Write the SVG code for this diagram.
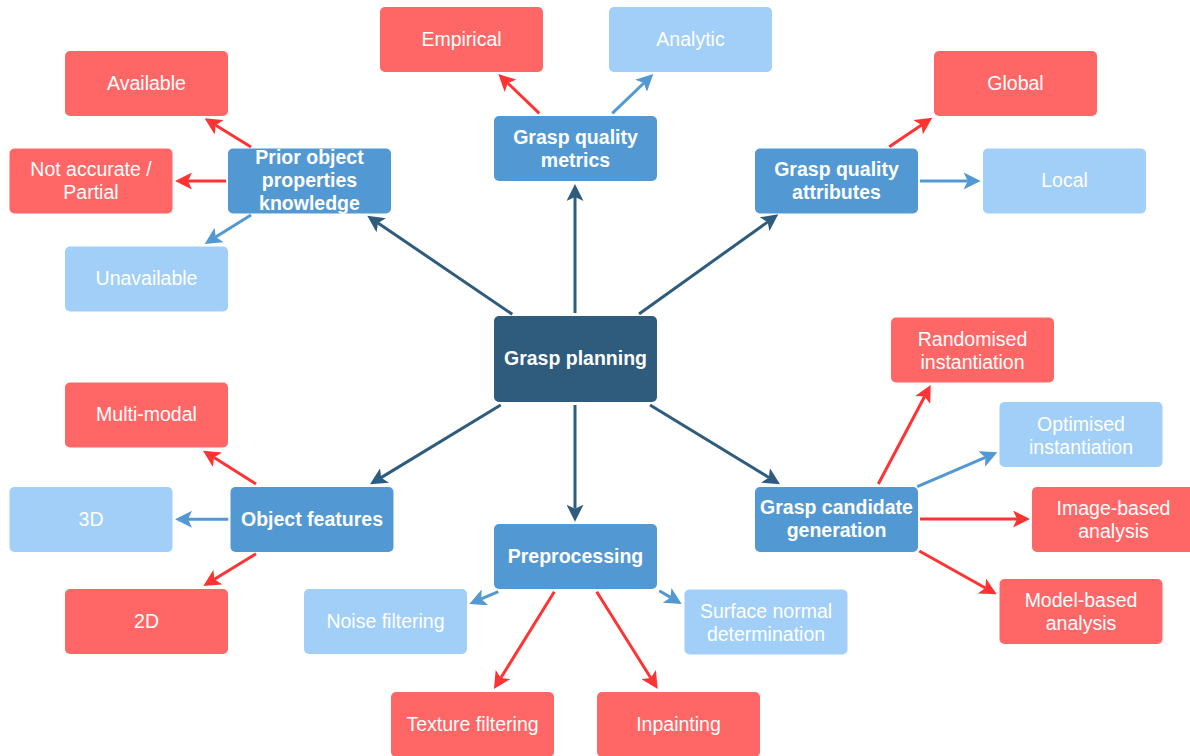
<svg xmlns="http://www.w3.org/2000/svg" width="1190" height="756" viewBox="0 0 1190 756">
  <style>
    .box { stroke: none; }
    .root { fill: #2F5B7C; }
    .cat { fill: #5299D3; }
    .red { fill: #FF6666; }
    .lite { fill: #A1CFF8; }
    text { font-family: "Liberation Sans", Arial, sans-serif; font-size: 19.5px; fill: #FFFFFF; text-anchor: middle; }
    .b { font-weight: bold; }
    .c-dark { stroke: #2F5B7C; stroke-width: 3; fill: none; marker-end: url(#ah-dark); }
    .c-red { stroke: #FF3333; stroke-width: 3; fill: none; marker-end: url(#ah-red); }
    .c-blue { stroke: #5299D3; stroke-width: 3; fill: none; marker-end: url(#ah-blue); }
  </style>
  <defs>
    <!-- classic notched arrowhead: tip at x=17, notch at x=4 (line ends at the notch) -->
    <marker id="ah-dark" markerUnits="userSpaceOnUse" markerWidth="17" markerHeight="17" refX="4" refY="8.5" orient="auto">
      <path d="M17,8.5 L0,0 L4,8.5 L0,17 Z" fill="#2F5B7C"/>
    </marker>
    <marker id="ah-red" markerUnits="userSpaceOnUse" markerWidth="17" markerHeight="17" refX="4" refY="8.5" orient="auto">
      <path d="M17,8.5 L0,0 L4,8.5 L0,17 Z" fill="#FF3333"/>
    </marker>
    <marker id="ah-blue" markerUnits="userSpaceOnUse" markerWidth="17" markerHeight="17" refX="4" refY="8.5" orient="auto">
      <path d="M17,8.5 L0,0 L4,8.5 L0,17 Z" fill="#5299D3"/>
    </marker>
  </defs>

  <rect width="1190" height="756" fill="#FFFFFF"/>

  <!-- connectors -->
  <g id="connectors">
    <line class="c-dark" x1="575" y1="313" x2="575" y2="197"/>
    <line class="c-dark" x1="512.3" y1="314.3" x2="378" y2="223"/>
    <line class="c-dark" x1="639" y1="314" x2="767.7" y2="221.9"/>
    <line class="c-dark" x1="500.7" y1="405" x2="381.1" y2="477.6"/>
    <line class="c-dark" x1="575" y1="405" x2="575" y2="508.7"/>
    <line class="c-dark" x1="650" y1="405" x2="768.9" y2="477.5"/>

    <line class="c-red" x1="539.3" y1="113.3" x2="507.7" y2="83"/>
    <line class="c-blue" x1="612.3" y1="113.3" x2="643.9" y2="83"/>

    <line class="c-red" x1="251" y1="147" x2="215.7" y2="125.2"/>
    <line class="c-red" x1="226" y1="181" x2="188" y2="181"/>
    <line class="c-blue" x1="251" y1="215" x2="215.7" y2="237.1"/>

    <line class="c-red" x1="889.3" y1="146.7" x2="921.5" y2="125"/>
    <line class="c-blue" x1="920" y1="181" x2="967.7" y2="181"/>

    <line class="c-red" x1="878.3" y1="484" x2="924.6" y2="396.5"/>
    <line class="c-blue" x1="917.3" y1="486.7" x2="985.4" y2="457.4"/>
    <line class="c-red" x1="920" y1="519" x2="1017" y2="519"/>
    <line class="c-red" x1="919.3" y1="551" x2="985.4" y2="588"/>

    <line class="c-red" x1="256" y1="484" x2="214" y2="457.6"/>
    <line class="c-blue" x1="228.3" y1="519.3" x2="188" y2="519.3"/>
    <line class="c-red" x1="256" y1="553.7" x2="214.4" y2="579.2"/>

    <line class="c-blue" x1="498.3" y1="591.7" x2="481.3" y2="598.9"/>
    <line class="c-red" x1="554.3" y1="591.7" x2="500.8" y2="678"/>
    <line class="c-red" x1="596.7" y1="591.7" x2="650.8" y2="678"/>
    <line class="c-blue" x1="659.3" y1="590.7" x2="670.5" y2="597.4"/>
  </g>

  <!-- central node -->
  <g id="grasp-planning">
    <rect class="box root" x="494" y="316" width="163" height="86" rx="5"/>
    <text class="b" x="575.5" y="365">Grasp planning</text>
  </g>

  <!-- category nodes -->
  <g id="grasp-quality-metrics">
    <rect class="box cat" x="494" y="116" width="163" height="65" rx="5"/>
    <text class="b" x="575.5" y="143.5">Grasp quality</text>
    <text class="b" x="575.5" y="166.5">metrics</text>
  </g>
  <g id="prior-knowledge">
    <rect class="box cat" x="228" y="148.5" width="163" height="65" rx="5"/>
    <text class="b" x="309.5" y="164">Prior object</text>
    <text class="b" x="309.5" y="187">properties</text>
    <text class="b" x="309.5" y="210">knowledge</text>
  </g>
  <g id="grasp-quality-attributes">
    <rect class="box cat" x="755" y="148.5" width="163" height="65" rx="5"/>
    <text class="b" x="836.5" y="176">Grasp quality</text>
    <text class="b" x="836.5" y="199">attributes</text>
  </g>
  <g id="object-features">
    <rect class="box cat" x="230.5" y="487" width="163" height="65" rx="5"/>
    <text class="b" x="312" y="525.5">Object features</text>
  </g>
  <g id="preprocessing">
    <rect class="box cat" x="494" y="524" width="163" height="65" rx="5"/>
    <text class="b" x="575.5" y="562.5">Preprocessing</text>
  </g>
  <g id="grasp-candidate-generation">
    <rect class="box cat" x="755" y="487" width="163" height="65" rx="5"/>
    <text class="b" x="836.5" y="514">Grasp candidate</text>
    <text class="b" x="836.5" y="537">generation</text>
  </g>

  <!-- leaf nodes -->
  <g id="empirical">
    <rect class="box red" x="380" y="7" width="163" height="65" rx="5"/>
    <text x="461.5" y="46">Empirical</text>
  </g>
  <g id="analytic">
    <rect class="box lite" x="609" y="7" width="163" height="65" rx="5"/>
    <text x="690.5" y="46">Analytic</text>
  </g>
  <g id="available">
    <rect class="box red" x="65" y="51" width="163" height="65" rx="5"/>
    <text x="146.5" y="89.5">Available</text>
  </g>
  <g id="not-accurate">
    <rect class="box red" x="9.5" y="148.5" width="163" height="65" rx="5"/>
    <text x="91" y="176">Not accurate /</text>
    <text x="91" y="199">Partial</text>
  </g>
  <g id="unavailable">
    <rect class="box lite" x="65" y="246.5" width="163" height="65" rx="5"/>
    <text x="146.5" y="285">Unavailable</text>
  </g>
  <g id="global">
    <rect class="box red" x="934" y="51" width="163" height="65" rx="5"/>
    <text x="1015.5" y="89.5">Global</text>
  </g>
  <g id="local">
    <rect class="box lite" x="983" y="148.5" width="163" height="65" rx="5"/>
    <text x="1064.5" y="187">Local</text>
  </g>
  <g id="randomised-instantiation">
    <rect class="box red" x="891" y="317.5" width="163" height="65" rx="5"/>
    <text x="972.5" y="345.5">Randomised</text>
    <text x="972.5" y="368.5">instantiation</text>
  </g>
  <g id="optimised-instantiation">
    <rect class="box lite" x="999.5" y="402" width="163" height="65" rx="5"/>
    <text x="1081" y="430.5">Optimised</text>
    <text x="1081" y="453.5">instantiation</text>
  </g>
  <g id="image-based-analysis">
    <rect class="box red" x="1032" y="487" width="163" height="65" rx="5"/>
    <text x="1113.5" y="515">Image-based</text>
    <text x="1113.5" y="538">analysis</text>
  </g>
  <g id="model-based-analysis">
    <rect class="box red" x="999.5" y="579" width="163" height="65" rx="5"/>
    <text x="1081" y="607">Model-based</text>
    <text x="1081" y="630">analysis</text>
  </g>
  <g id="multi-modal">
    <rect class="box red" x="65" y="382.5" width="163" height="65" rx="5"/>
    <text x="146.5" y="421">Multi-modal</text>
  </g>
  <g id="three-d">
    <rect class="box lite" x="9.5" y="487" width="163" height="65" rx="5"/>
    <text x="91" y="525.5">3D</text>
  </g>
  <g id="two-d">
    <rect class="box red" x="65" y="589" width="163" height="65" rx="5"/>
    <text x="146.5" y="627.5">2D</text>
  </g>
  <g id="noise-filtering">
    <rect class="box lite" x="304" y="589" width="163" height="65" rx="5"/>
    <text x="385.5" y="627.5">Noise filtering</text>
  </g>
  <g id="surface-normal">
    <rect class="box lite" x="684.5" y="589.5" width="163" height="65" rx="5"/>
    <text x="766" y="617.5">Surface normal</text>
    <text x="766" y="640.5">determination</text>
  </g>
  <g id="texture-filtering">
    <rect class="box red" x="391" y="692" width="163" height="65" rx="5"/>
    <text x="472.5" y="730.5">Texture filtering</text>
  </g>
  <g id="inpainting">
    <rect class="box red" x="597" y="692" width="163" height="65" rx="5"/>
    <text x="678.5" y="730.5">Inpainting</text>
  </g>
</svg>
